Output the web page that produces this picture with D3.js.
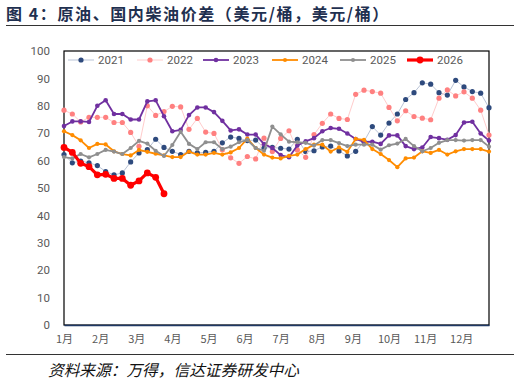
<!DOCTYPE html>
<html>
<head>
<meta charset="utf-8">
<script src="https://cdn.jsdelivr.net/npm/d3@7"></script>
<style>
  body { margin: 0; background: #fff; }
  svg { display: block; }
  text { font-family: "Noto Sans CJK SC", "Noto Sans", sans-serif; }
</style>
</head>
<body>
<svg id="chart" width="520" height="389"></svg>
<script>
// weekly values, 52 points a year
var months = ["1月","2月","3月","4月","5月","6月","7月","8月","9月","10月","11月","12月"];
var yTicks = [0,10,20,30,40,50,60,70,80,90,100];

var s2021 = [62.2,59.2,59.8,59.2,58.2,56,54.8,55.5,59.5,62.8,64,67.8,64.8,63.4,62.2,63.4,62.8,63,63.4,66.5,68.6,68.1,67.3,67.5,
  64.6,64.8,64.5,64.2,67.8,63.3,63.6,65,65.3,63.5,61.7,63.4,67,72.4,69.3,73.7,77,82.3,84.8,88.4,87.9,84.8,83.9,89.3,86.9,85.2,84.6,79.3];
var s2022 = [78.4,77,74.1,75.8,75.8,75.8,73.9,73.9,70.3,65.2,80,76.5,77.9,79.8,79.6,71.4,75.4,70.4,69.9,64,61,59,61.5,60.6,
  68.2,63.3,68.1,70.9,63.9,61.2,69.5,73.6,77,75.4,75,84.2,85.7,85.2,84.6,79.4,74.5,78.2,76.1,75.5,74.9,82.8,85.8,83.6,85.1,82.8,78.4,69.3];
var s2023 = [72.6,74.3,74.3,74.1,80,82,77,77,75,75,81.6,82,76.2,70.7,71.2,76.6,79.4,79.4,77.7,74.5,71,71.4,69.5,69.5,
  66,64.6,62,61.2,65.5,67,68.2,70.7,71.9,71.6,69.9,67.9,66.8,66.9,66.1,69.2,69.2,65.3,64.2,64.8,68.6,68.2,67.6,69.3,73.9,74.2,69.9,67.3];
var s2024 = [70.7,69.3,67.4,64.6,66.1,65.9,63.4,62.4,61.9,63.9,63.2,62.5,61.9,61.3,61.3,63.3,62.2,62.2,62.8,62.2,63,64.6,68,64.6,
  62.2,61.1,60.8,61.7,62.2,64.2,65.8,65.8,63.3,64.8,63.2,67.9,67.6,64.2,62.4,60.2,57.6,60.8,61.1,63.4,62.8,63.9,62.2,63.4,64.2,64.2,64.2,63.3];
var s2025 = [61.3,60.8,62.4,61.2,62.4,63.9,63.3,62.4,64.6,67.2,66.2,63.6,61.7,65.7,70.5,66.1,64.2,66.7,66.7,64.2,65.1,66.7,67.5,64.6,
  63.6,72.4,69.6,66.9,66.7,66.5,65.5,67.5,67.5,66.4,65.3,65.8,65.8,65.8,64,65.6,66.2,67.9,65.3,63.4,64.6,66.5,67.5,67.5,67.3,67.5,67.5,65.1];
var s2026 = [64.8,63,59,57.8,54.8,55,53.5,53.5,51,52.6,55.5,53.9,47.9];

var series = [
  {name:"2021", values:s2021, line:"#b9c3d6", lw:1, dot:"#2e4a7d", r:2.6},
  {name:"2022", values:s2022, line:"#ffcccc", lw:1, dot:"#ff8080", r:2.6},
  {name:"2023", values:s2023, line:"#7030a0", lw:1.8, dot:"#7030a0", r:2.3},
  {name:"2024", values:s2024, line:"#ff8c00", lw:1.8, dot:"#ff8c00", r:2.1},
  {name:"2025", values:s2025, line:"#8f8f8f", lw:1.8, dot:"#8f8f8f", r:2.1},
  {name:"2026", values:s2026, line:"#ff0000", lw:3.2, dot:"#ff0000", r:3.4}
];

var svg = d3.select("#chart");
var pLeft = 64, pRight = 489, pTop = 51, pBottom = 325;

var x = d3.scaleLinear().domain([0, 51]).range([pLeft, pRight]);
var y = d3.scaleLinear().domain([0, 100]).range([pBottom, pTop]);

// title
svg.append("text")
  .attr("x", 6).attr("y", 20)
  .attr("font-size", 16).attr("font-weight", "bold")
  .attr("letter-spacing", 1.6)
  .attr("fill", "#1f3050")
  .text("图 4：原油、国内柴油价差（美元/桶，美元/桶）");
svg.append("line")
  .attr("x1", 6).attr("x2", 514).attr("y1", 25.5).attr("y2", 25.5)
  .attr("stroke", "#333").attr("stroke-width", 1.2);

// plot frame
svg.append("rect")
  .attr("x", pLeft).attr("y", pTop)
  .attr("width", pRight - pLeft).attr("height", pBottom - pTop)
  .attr("fill", "none").attr("stroke", "#000").attr("stroke-width", 1.2);

// y axis labels
var yAxis = d3.axisLeft(y).tickValues(yTicks).tickSize(0).tickPadding(14);
var gy = svg.append("g").attr("transform", "translate(" + pLeft + ",0)").call(yAxis);
gy.select(".domain").remove();
gy.selectAll("text").attr("font-size", 11.5).attr("fill", "#595959")
  .style("font-family", "Roboto, 'Noto Sans', sans-serif");

// x axis labels: one per month across 52 weeks
var xAxis = d3.axisBottom(x)
  .tickValues(months.map(function(d, i) { return i * 52 / 12; }))
  .tickFormat(function(d, i) { return months[i]; })
  .tickSize(0).tickPadding(10);
var gx = svg.append("g").attr("transform", "translate(0," + pBottom + ")").call(xAxis);
gx.select(".domain").attr("stroke", "#1f3864").attr("stroke-width", 1.6);
gx.selectAll("text").attr("font-size", 11).attr("fill", "#595959");

// series
var line = d3.line()
  .x(function(d, i) { return x(i); })
  .y(function(d) { return y(d); });

series.forEach(function(s) {
  var g = svg.append("g");
  g.append("path")
    .attr("d", line(s.values))
    .attr("fill", "none")
    .attr("stroke", s.line)
    .attr("stroke-width", s.lw)
    .attr("stroke-linejoin", "round");
  g.selectAll("circle")
    .data(s.values)
    .enter().append("circle")
      .attr("cx", function(d, i) { return x(i); })
      .attr("cy", function(d) { return y(d); })
      .attr("r", s.r)
      .attr("fill", s.dot);
});

// legend
var legendX = [68, 137, 203, 272, 340, 407];
var lg = svg.append("g");
series.forEach(function(s, i) {
  var lx = legendX[i], ly = 60;
  var item = lg.append("g");
  item.append("line")
    .attr("x1", lx).attr("x2", lx + 26).attr("y1", ly).attr("y2", ly)
    .attr("stroke", s.line).attr("stroke-width", s.lw);
  item.append("circle")
    .attr("cx", lx + 13).attr("cy", ly).attr("r", s.r).attr("fill", s.dot);
  item.append("text")
    .attr("x", lx + 30).attr("y", ly + 4)
    .attr("font-size", 11.5).attr("fill", "#595959")
    .style("font-family", "Roboto, 'Noto Sans', sans-serif")
    .text(s.name);
});

// footer
svg.append("line")
  .attr("x1", 6).attr("x2", 514).attr("y1", 354.5).attr("y2", 354.5)
  .attr("stroke", "#333").attr("stroke-width", 1);
svg.append("text")
  .attr("x", 48).attr("y", 376)
  .attr("font-size", 15.7).attr("font-style", "italic")
  .attr("fill", "#111")
  .text("资料来源：万得，信达证券研发中心");
</script>
</body>
</html>
